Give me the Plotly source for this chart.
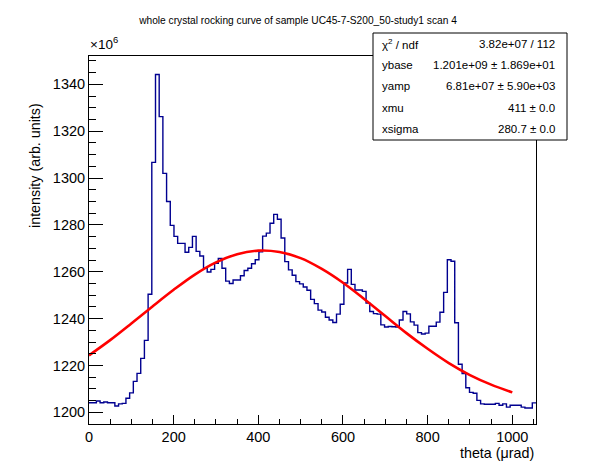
import numpy as np
import plotly.graph_objects as go

# histogram: 121 bins over theta 0..1056 urad, intensity in units of 1e6
x_min, x_max, n_bins = 0, 1056, 121
counts = [
    1204.1, 1204.1, 1204.8, 1204.1, 1204.4, 1204.1, 1204.1, 1202.7, 1203.6, 1203.8,
    1206.0, 1208.3, 1213.2, 1216.6, 1223.0, 1230.7, 1250.4, 1306.7, 1344.2, 1326.2,
    1302.0, 1290.0, 1279.8, 1275.1, 1272.1, 1272.1, 1268.3, 1270.4, 1275.1, 1268.7,
    1266.7, 1261.5, 1259.9, 1261.0, 1263.6, 1265.7, 1261.5, 1256.0, 1255.0, 1256.5,
    1256.5, 1258.3, 1260.5, 1261.5, 1263.4, 1265.1, 1268.5, 1275.2, 1276.5, 1280.7,
    1284.5, 1282.4, 1274.4, 1264.3, 1260.8, 1258.5, 1255.8, 1254.8, 1253.5, 1252.1,
    1248.2, 1246.4, 1243.6, 1242.8, 1240.6, 1239.4, 1238.3, 1241.9, 1246.1, 1255.2,
    1261.0, 1254.6, 1252.2, 1252.2, 1251.6, 1246.6, 1243.0, 1242.1, 1241.9, 1237.3,
    1236.4, 1236.6, 1236.5, 1236.4, 1239.4, 1243.0, 1242.0, 1238.6, 1237.2, 1234.0,
    1233.4, 1233.8, 1236.7, 1236.7, 1238.5, 1242.7, 1251.2, 1265.1, 1264.5, 1238.2,
    1220.5, 1216.5, 1210.5, 1208.5, 1208.1, 1205.1, 1203.6, 1203.4, 1203.4, 1203.4,
    1203.8, 1203.0, 1203.6, 1202.2, 1203.0, 1203.0, 1203.0, 1202.2, 1201.8, 1201.8,
    1204.0,
]

# gaussian fit curve
fit_x = [0, 50, 100, 150, 200, 250, 300, 350, 400, 450, 500,
         550, 600, 650, 700, 750, 800, 850, 900, 950, 1000]
fit_y = [1224.3, 1230.8, 1237.9, 1245.2, 1252.3, 1258.8, 1264.0, 1267.5, 1269.0, 1268.4, 1265.8,
         1261.2, 1255.3, 1248.4, 1241.1, 1233.8, 1227.1, 1221.0, 1215.9, 1211.8, 1208.5]

stat_names = ["χ<sup>2</sup> / ndf", "ybase", "yamp", "xmu", "xsigma"]
stat_values = ["3.82e+07 / 112", "1.201e+09 ± 1.869e+01", "6.81e+07 ± 5.90e+03",
               "411 ± 0.0", "280.7 ± 0.0"]

title = "whole crystal rocking curve of sample UC45-7-S200_50-study1 scan 4"

W, H = 596, 472
L, R, T, B = 89, 60, 56, 48
FONT = "Liberation Sans, Arial, sans-serif"


def px(X):
    return (X - L) / (W - L - R)


def py(Y):
    return (H - B - Y) / (H - T - B)


edges = np.linspace(x_min, x_max, n_bins + 1)

fig = go.Figure()
fig.add_trace(go.Scatter(
    x=edges, y=counts + [counts[-1]],
    mode="lines", line=dict(color="#000090", width=1.4, shape="hv"),
    hoverinfo="skip"))
fig.add_trace(go.Scatter(
    x=fit_x, y=fit_y,
    mode="lines", line=dict(color="#ff0000", width=2.6, shape="spline"),
    hoverinfo="skip"))

axis_common = dict(
    showline=True, linecolor="black", linewidth=1, mirror=True,
    showgrid=False, zeroline=False, ticks="inside", tickcolor="black",
    tickfont=dict(family=FONT, size=14.5, color="black"),
)
fig.update_xaxes(range=[x_min, x_max], tickvals=[0, 200, 400, 600, 800, 1000],
                 ticklen=9, minor=dict(ticks="inside", ticklen=5, dtick=50, tick0=0,
                                       tickcolor="black"),
                 **axis_common)
fig.update_yaxes(range=[1195.0, 1352.1], tickvals=list(range(1200, 1341, 20)),
                 ticklen=14, minor=dict(ticks="inside", ticklen=7, dtick=5, tick0=1200,
                                        tickcolor="black"),
                 **axis_common)

ann = []
ann.append(dict(text="×10<sup>6</sup>", x=px(88), y=py(54), xanchor="left", yanchor="bottom",
                font=dict(family=FONT, size=13.5)))
ann.append(dict(text="theta (μrad)", x=px(536), y=py(453), xanchor="right", yanchor="middle",
                font=dict(family=FONT, size=14.3)))
ann.append(dict(text="intensity (arb. units)", x=px(35), y=py(166), xanchor="center",
                yanchor="middle", textangle=-90, font=dict(family=FONT, size=14.3)))

# stats box
box_l, box_r, box_t, box_b = 373, 567, 33, 140
row_h = (box_b - box_t) / len(stat_names)
for i, (name, val) in enumerate(zip(stat_names, stat_values)):
    yc = box_t + row_h * (i + 0.5)
    ann.append(dict(text=name, x=px(380), y=py(yc), xanchor="left", yanchor="middle",
                    font=dict(family=FONT, size=11.5)))
    ann.append(dict(text=val, x=px(557), y=py(yc), xanchor="right", yanchor="middle",
                    font=dict(family=FONT, size=11.5)))
for a in ann:
    a.update(xref="paper", yref="paper", showarrow=False)
    a["font"]["color"] = "black"

fig.update_layout(
    width=W, height=H,
    margin=dict(l=L, r=R, t=T, b=B),
    paper_bgcolor="white", plot_bgcolor="white",
    showlegend=False,
    title=dict(text=title, x=0.5, xref="container", xanchor="center",
               y=1 - 20 / H, yref="container", yanchor="middle",
               font=dict(family=FONT, size=10.2, color="black")),
    annotations=ann,
    shapes=[dict(type="rect", xref="paper", yref="paper",
                 x0=px(box_l), x1=px(box_r), y0=py(box_b), y1=py(box_t),
                 line=dict(color="black", width=1), fillcolor="white", layer="above")],
)

# drop the browser's default page margin so the figure sits at the window corner
fig.write_html("out.html", config={"displayModeBar": False},
               post_script="document.body.style.margin = '0';")
